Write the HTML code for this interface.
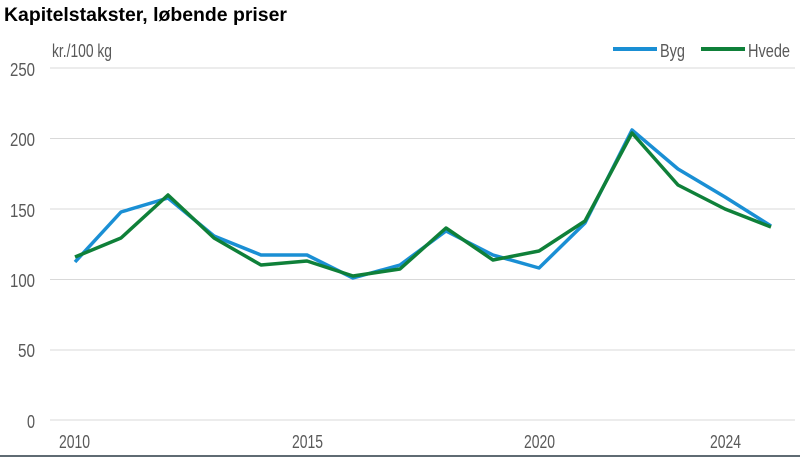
<!DOCTYPE html>
<html><head><meta charset="utf-8"><style>
body{margin:0;background:#fff;width:800px;height:458px;overflow:hidden}
text{font-family:"Liberation Sans",sans-serif;fill:#595959}
</style></head><body>
<svg width="800" height="458" viewBox="0 0 800 458">
<text x="4" y="21" style="font-weight:bold;font-size:19px;fill:#000" textLength="283" lengthAdjust="spacingAndGlyphs">Kapitelstakster, løbende priser</text>
<g stroke="#d9d9d9" stroke-width="1">
<line x1="50" x2="795" y1="68" y2="68"/><line x1="50" x2="795" y1="138.5" y2="138.5"/>
<line x1="50" x2="795" y1="209" y2="209"/><line x1="50" x2="795" y1="279.5" y2="279.5"/>
<line x1="50" x2="795" y1="350" y2="350"/><line x1="50" x2="795" y1="420" y2="420"/>
</g>
<g font-size="18" text-anchor="end">
<text x="35" y="76" textLength="25" lengthAdjust="spacingAndGlyphs">250</text>
<text x="35" y="146" textLength="25" lengthAdjust="spacingAndGlyphs">200</text>
<text x="35" y="217" textLength="25" lengthAdjust="spacingAndGlyphs">150</text>
<text x="35" y="287" textLength="25" lengthAdjust="spacingAndGlyphs">100</text>
<text x="35" y="357" textLength="17" lengthAdjust="spacingAndGlyphs">50</text>
<text x="35" y="428" textLength="8" lengthAdjust="spacingAndGlyphs">0</text>
</g>
<text x="52" y="57" font-size="18" textLength="60" lengthAdjust="spacingAndGlyphs">kr./100 kg</text>
<g font-size="18">
<text x="59" y="448" textLength="31" lengthAdjust="spacingAndGlyphs">2010</text>
<text x="292" y="448" textLength="31" lengthAdjust="spacingAndGlyphs">2015</text>
<text x="524" y="448" textLength="31" lengthAdjust="spacingAndGlyphs">2020</text>
<text x="710" y="448" textLength="31" lengthAdjust="spacingAndGlyphs">2024</text>
</g>
<line x1="0" x2="800" y1="456" y2="456" stroke="#5f6b73" stroke-width="2"/>
<line x1="613" x2="657" y1="49" y2="49" stroke="#1a8fd4" stroke-width="4"/>
<text x="660" y="57" font-size="18" textLength="25" lengthAdjust="spacingAndGlyphs">Byg</text>
<line x1="701" x2="745" y1="49" y2="49" stroke="#0f8039" stroke-width="4"/>
<text x="748" y="57" font-size="18" textLength="42" lengthAdjust="spacingAndGlyphs">Hvede</text>
<polyline fill="none" stroke="#1a8fd4" stroke-width="3.5" stroke-linejoin="round" points="75,262 121,212 168,198 214,236 261,255 307,255 353,278 400,265 446,231 493,255 539,268 585,223 632,130 678,169 725,197 771,226"/>
<polyline fill="none" stroke="#0f8039" stroke-width="3.5" stroke-linejoin="round" points="75,257 121,238 168,195 214,238 261,265 307,261 353,276 400,269 446,228 493,260 539,251 585,221 632,133 678,185 725,209 771,227"/>
</svg>
</body></html>
